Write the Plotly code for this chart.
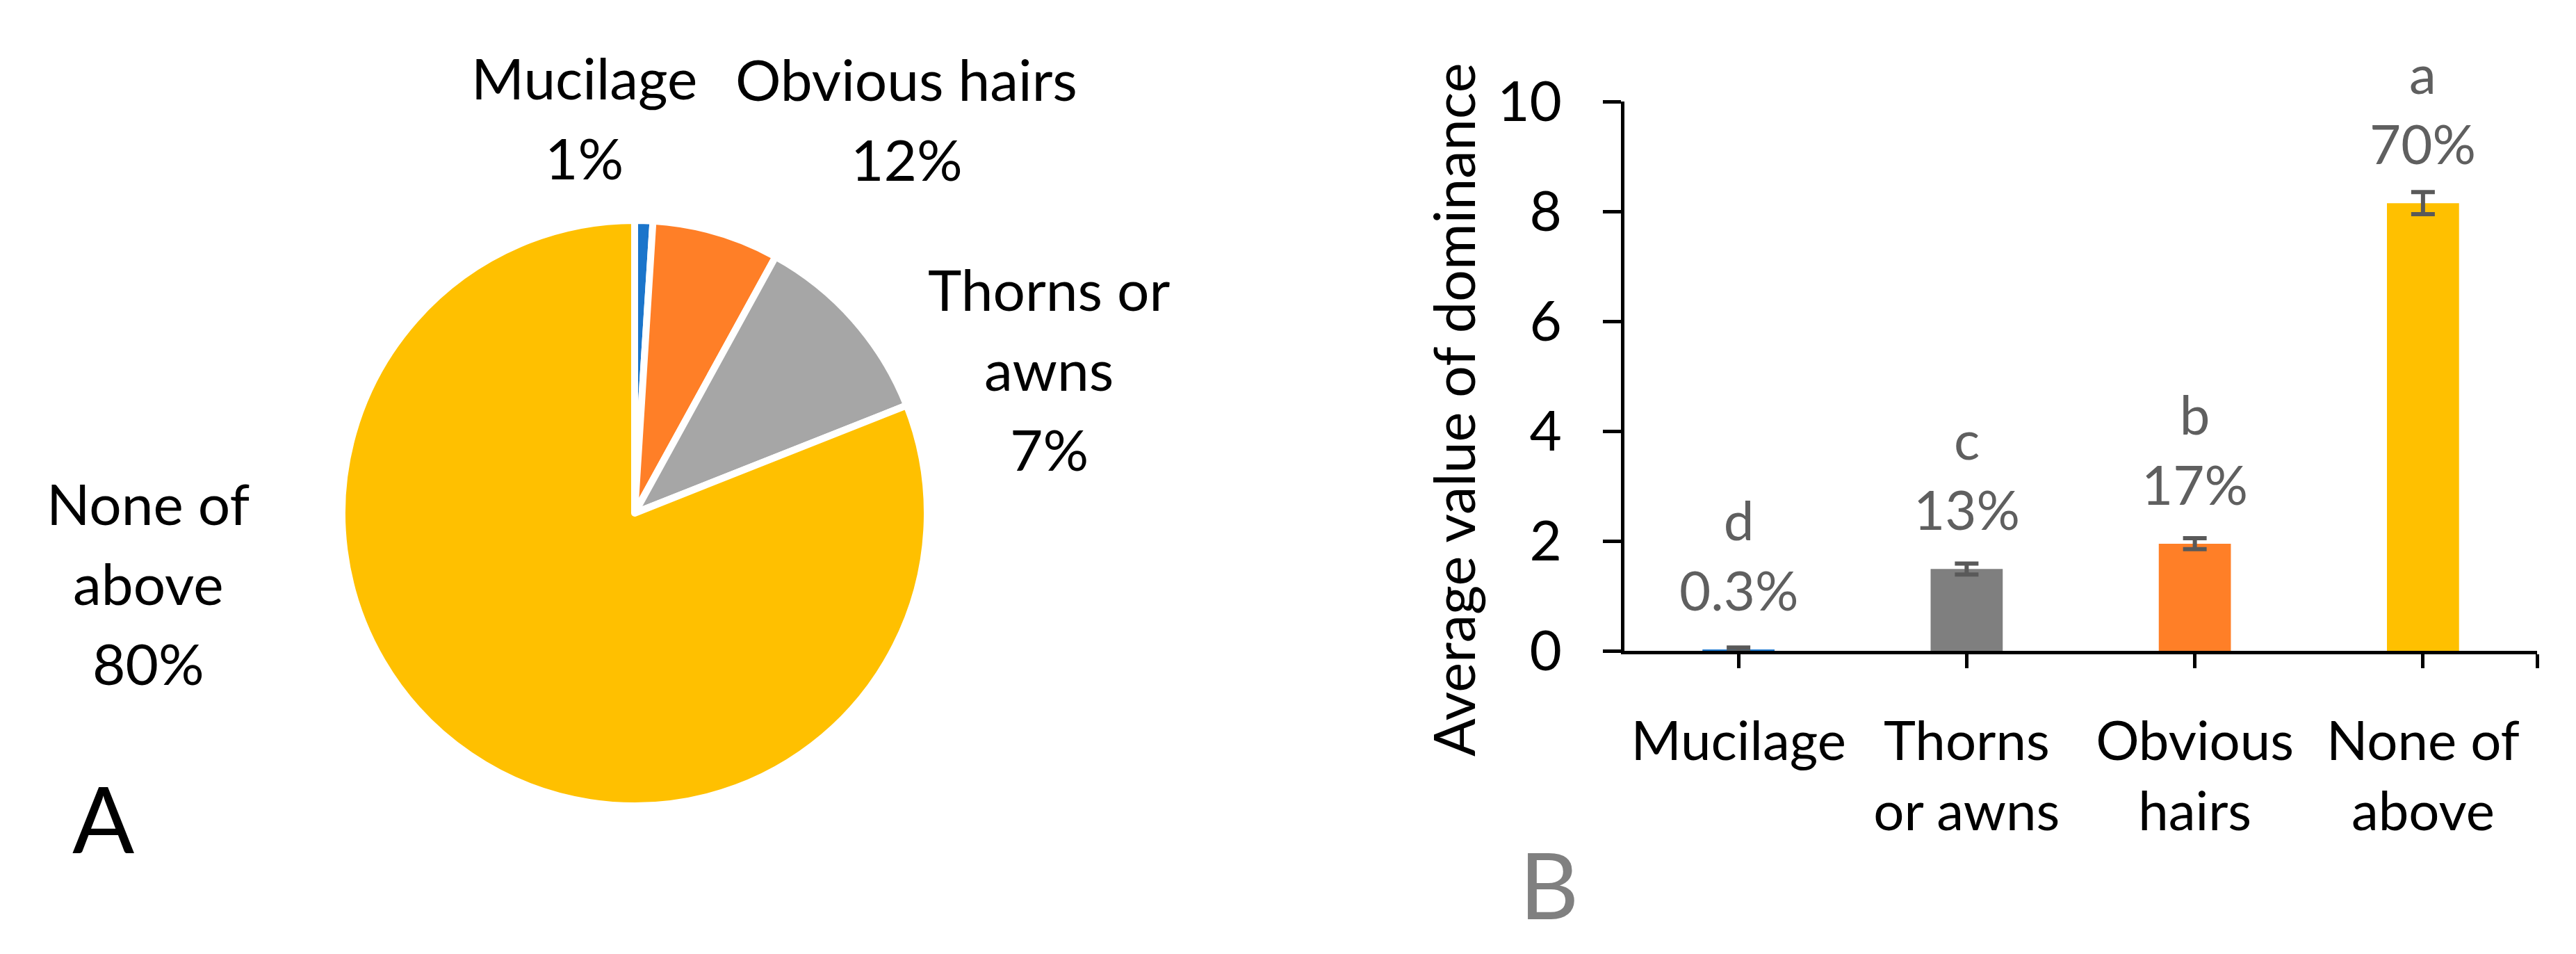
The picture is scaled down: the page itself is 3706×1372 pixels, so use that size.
import plotly.graph_objects as go

# ── Dados ───────────────────────────────────────────────────────────
W, H = 3706, 1372

pie_values = [1, 7, 11, 81]
pie_colors = ["#1B75CB", "#FF7F27", "#A6A6A6", "#FFC000"]
pie_labels = ["Mucilage<br>1%", "Obvious hairs<br>12%", "Thorns or<br>awns<br>7%", "None of<br>above<br>80%"]

categories = ["Mucilage", "Thorns<br>or awns", "Obvious<br>hairs", "None of<br>above"]
dominance = [0.02, 1.49, 1.95, 8.15]
dominance_err = [0.04, 0.10, 0.10, 0.20]
letters = ["d", "c", "b", "a"]
shares = ["0.3%", "13%", "17%", "70%"]
bar_colors = ["#1B75CB", "#7F7F7F", "#FF7F27", "#FFC000"]

FONT = "Lato, 'Open Sans', sans-serif"


def px(x):
    return x / W


def py(y):
    return 1 - y / H


fig = go.Figure()

# ── Painel A: pizza ─────────────────────────────────────────────────
cx, cy, r = 905, 730, 421
fig.add_trace(go.Pie(
    values=pie_values,
    marker=dict(colors=pie_colors, line=dict(color="white", width=10)),
    sort=False,
    direction="clockwise",
    rotation=0,
    textinfo="none",
    hoverinfo="skip",
    showlegend=False,
    domain=dict(x=[px(cx - r), px(cx + r)], y=[py(cy + r), py(cy - r)]),
))

# rótulos: centro x e linha de base da primeira linha (espaçamento 115 px)
label_pos = [(832, 134), (1296, 136), (1501, 438), (205, 746)]
for txt, (lx, base) in zip(pie_labels, label_pos):
    for k, line in enumerate(txt.split("<br>")):
        fig.add_annotation(
            text=line, x=px(lx), y=py(base + 115 * k - 31),
            xref="paper", yref="paper",
            xanchor="center", yanchor="middle", showarrow=False,
            font=dict(size=82, color="black", family=FONT),
        )

# ── Painel B: barras ────────────────────────────────────────────────
xpos = list(range(len(categories)))
fig.add_trace(go.Bar(
    x=xpos,
    y=dominance,
    width=0.316,
    marker=dict(color=bar_colors, line=dict(width=0)),
    error_y=dict(type="data", array=dominance_err, visible=True,
                 color="#595959", thickness=6, width=17),
    showlegend=False,
    hoverinfo="skip",
))

for i, (v, let, sh) in enumerate(zip(dominance, letters, shares)):
    fig.add_annotation(
        text=f"{let}<br>{sh}", x=i, y=v, xref="x", yref="y",
        xanchor="center", yanchor="bottom", yshift=37, showarrow=False,
        font=dict(size=78, color="#5F5F5F", family=FONT),
    )

fig.update_xaxes(
    domain=[px(2329), px(3642)],
    range=[-0.5, 3.5],
    tickvals=xpos + [3.5],
    ticktext=categories + [""],
    ticks="outside", ticklen=20, tickwidth=5, tickcolor="black",
    ticklabelstandoff=38,
    showline=True, linewidth=5, linecolor="black",
    showgrid=False, zeroline=False, automargin=False,
    tickfont=dict(size=78, color="black", family=FONT),
)
fig.update_yaxes(
    domain=[py(928), py(138)],
    range=[0, 10],
    tickvals=[0, 2, 4, 6, 8, 10],
    ticks="outside", ticklen=26, tickwidth=5, tickcolor="black",
    ticklabelstandoff=43,
    showline=True, linewidth=5, linecolor="black",
    showgrid=False, zeroline=False, automargin=False,
    tickfont=dict(size=80, color="black", family=FONT),
)

# título do eixo y
fig.add_annotation(text="Average value of dominance", x=px(2082), y=py(582),
                   xref="paper", yref="paper", textangle=-90, showarrow=False,
                   xanchor="center", yanchor="middle",
                   font=dict(size=81, color="black", family=FONT))

# letras dos painéis
fig.add_annotation(text="A", x=px(140), y=py(1168), xref="paper", yref="paper",
                   showarrow=False, xanchor="center", yanchor="middle",
                   font=dict(size=132, color="black", family=FONT))
fig.add_annotation(text="B", x=px(2220), y=py(1263), xref="paper", yref="paper",
                   showarrow=False, xanchor="center", yanchor="middle",
                   font=dict(size=132, color="#808080", family=FONT))

fig.update_layout(
    width=W, height=H,
    margin=dict(l=0, r=0, t=0, b=0, autoexpand=False),
    paper_bgcolor="white",
    plot_bgcolor="white",
    font=dict(family=FONT),
)

fig.write_html("out.html")
